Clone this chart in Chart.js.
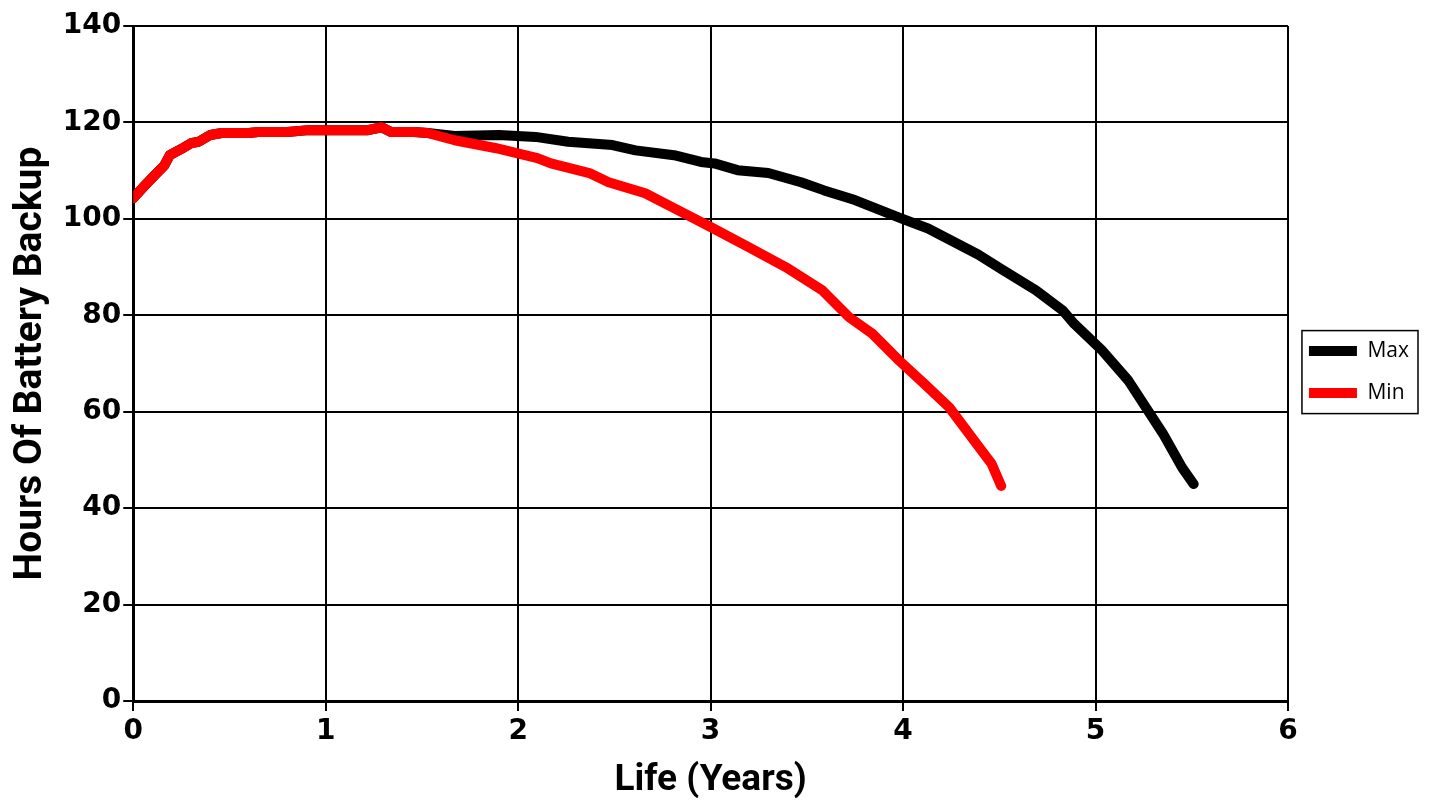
<!DOCTYPE html>
<html>
<head>
<meta charset="utf-8">
<script src="https://cdn.jsdelivr.net/npm/chart.js@4.4.1/dist/chart.umd.min.js"></script>
<style>
  html, body { margin: 0; padding: 0; background: #fff; }
  #wrap { width: 1431px; height: 803px; }
</style>
</head>
<body>
<div id="wrap"><canvas id="backup"></canvas></div>
<script>
const maxYears = [0, 0.05, 0.11, 0.16, 0.19, 0.25, 0.30, 0.34, 0.40, 0.46, 0.60, 0.65, 0.80, 0.91, 1.22, 1.29, 1.34, 1.46, 1.53,
  1.67, 1.90, 2.09, 2.26, 2.49, 2.61, 2.81, 2.95, 3.02, 3.14, 3.30, 3.47, 3.59, 3.75, 3.99, 4.13, 4.39, 4.51, 4.69, 4.83, 4.89,
  5.03, 5.17, 5.35, 5.45, 5.51];
const maxHours = [104.3, 106.5, 109, 111, 113.2, 114.5, 115.7, 116, 117.4, 117.8, 117.8, 118, 118, 118.4, 118.4, 119, 118, 118, 117.8,
  117.2, 117.4, 117, 116, 115.3, 114.2, 113.2, 111.8, 111.5, 110.1, 109.5, 107.6, 105.9, 103.9, 100.1, 98, 92.6, 89.6, 85.2, 81, 78.2,
  72.9, 66.5, 55.5, 48.4, 45];

const minYears = [0, 0.05, 0.11, 0.16, 0.19, 0.25, 0.30, 0.34, 0.40, 0.46, 0.60, 0.65, 0.80, 0.91, 1.22, 1.29, 1.34, 1.46, 1.53,
  1.67, 1.88, 2.10, 2.17, 2.37, 2.47, 2.66, 2.83, 3.00, 3.20, 3.39, 3.58, 3.72, 3.84, 3.98, 4.11, 4.24, 4.37, 4.46, 4.51];
const minHours = [104.3, 106.5, 109, 111, 113.2, 114.5, 115.7, 116, 117.4, 117.8, 117.8, 118, 118, 118.4, 118.4, 119, 118, 118, 117.8,
  116.3, 114.7, 112.6, 111.5, 109.5, 107.6, 105.3, 101.8, 98.3, 94.1, 90, 85.2, 79.6, 76.2, 70.6, 65.8, 60.9, 54, 49.2, 44.6];

const seriesNames = ['Max', 'Min'];
const seriesColors = ['#000000', '#ff0000'];

const toPoints = (xs, ys) => xs.map((x, i) => ({ x: x, y: ys[i] }));

const tickFont = { family: 'DejaVu Sans', size: 28, weight: 'bold' };
const xTitleFont = { family: 'Roboto', size: 37, weight: 'bold' };
const yTitleFont = { family: 'Roboto', size: 39, weight: 'bold' };

// box around the legend, like the original
const legendFrame = {
  id: 'legendFrame',
  afterDraw(chart) {
    const boxes = chart.legend && chart.legend.legendHitBoxes;
    if (!boxes || !boxes.length) return;
    let l = Infinity, t = Infinity, r = -Infinity, b = -Infinity;
    boxes.forEach(h => {
      l = Math.min(l, h.left); t = Math.min(t, h.top);
      r = Math.max(r, h.left + h.width); b = Math.max(b, h.top + h.height);
    });
    const c = chart.ctx;
    c.save();
    c.strokeStyle = '#000';
    c.lineWidth = 1.5;
    c.strokeRect(l - 7, t - 10, r - l + 16, b - t + 20);
    c.restore();
  }
};

const ctx = document.getElementById('backup');

new Chart(ctx, {
  type: 'scatter',
  data: {
    datasets: [
      {
        label: seriesNames[0],
        data: toPoints(maxYears, maxHours),
        showLine: true,
        borderColor: seriesColors[0],
        backgroundColor: seriesColors[0],
        borderWidth: 10,
        borderCapStyle: 'round',
        borderJoinStyle: 'round',
        pointRadius: 0,
        order: 2
      },
      {
        label: seriesNames[1],
        data: toPoints(minYears, minHours),
        showLine: true,
        borderColor: seriesColors[1],
        backgroundColor: seriesColors[1],
        borderWidth: 10,
        borderCapStyle: 'round',
        borderJoinStyle: 'round',
        pointRadius: 0,
        order: 1
      }
    ]
  },
  plugins: [legendFrame],
  options: {
    responsive: true,
    maintainAspectRatio: false,
    animation: false,
    layout: { padding: { top: 26, right: 12, left: 2, bottom: 0 } },
    plugins: {
      tooltip: { enabled: false },
      legend: {
        position: 'right',
        fullSize: false,
        // empty title only nudges the items down a little
        title: { display: true, text: ' ', font: { size: 1 }, padding: 8 },
        labels: {
          color: '#000',
          font: { family: 'Open Sans', size: 21 },
          boxWidth: 48,
          boxHeight: 10,
          useBorderRadius: true,
          borderRadius: 5,
          padding: 21,
          generateLabels(chart) {
            return chart.data.datasets.map((ds, i) => ({
              text: ds.label,
              fillStyle: ds.borderColor,
              strokeStyle: ds.borderColor,
              lineWidth: 0,
              fontColor: '#000',
              hidden: false,
              datasetIndex: i
            }));
          }
        }
      }
    },
    scales: {
      x: {
        type: 'linear',
        min: 0,
        max: 6,
        ticks: { stepSize: 1, color: '#000', font: tickFont, padding: 4 },
        grid: { color: '#000', lineWidth: 2, tickLength: 10 },
        border: { color: '#000', width: 3 },
        title: { display: true, text: 'Life (Years)', color: '#000', font: xTitleFont, padding: { top: 6, bottom: 0 } }
      },
      y: {
        min: 0,
        max: 140,
        ticks: { stepSize: 20, color: '#000', font: tickFont, padding: 2 },
        grid: { color: '#000', lineWidth: 2, tickLength: 10 },
        border: { color: '#000', width: 3 },
        title: { display: true, text: 'Hours Of Battery Backup', color: '#000', font: yTitleFont, padding: { top: 6, bottom: 6 } }
      }
    }
  }
});
</script>
</body>
</html>
